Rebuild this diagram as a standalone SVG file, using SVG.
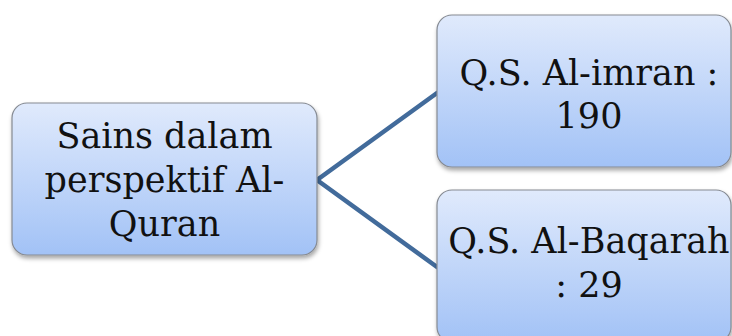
<svg xmlns="http://www.w3.org/2000/svg" width="732" height="336" viewBox="0 0 732 336">
<defs>
<linearGradient id="g" x1="0" y1="0" x2="0" y2="1">
<stop offset="0" stop-color="#e0eafc"/>
<stop offset="1" stop-color="#a2c2f6"/>
</linearGradient>
<filter id="sh" x="-10%" y="-10%" width="120%" height="130%">
<feDropShadow dx="1" dy="3" stdDeviation="2" flood-color="#000" flood-opacity="0.35"/>
</filter>
<style>
.box{fill:url(#g);stroke:#858a92;stroke-width:1.2;filter:url(#sh)}
.t{font-family:"DejaVu Serif",serif;font-size:35px;fill:#111;text-anchor:middle}
.c{stroke:#426b9b;stroke-width:4.5;fill:none;stroke-linecap:round;stroke-linejoin:miter}
</style>
</defs>
<rect width="732" height="336" fill="#fff"/>
<g id="connectors">
<polyline class="c" points="437,93 317,180 437,267"/>
</g>
<g id="node-sains">
<rect class="box" x="12" y="103" width="305" height="152" rx="15"/>
<text class="t" x="164.5" y="148">Sains dalam</text>
<text class="t" x="164.5" y="192">perspektif Al-</text>
<text class="t" x="164.5" y="236">Quran</text>
</g>
<g id="node-imran">
<rect class="box" x="437" y="15" width="294" height="152" rx="15"/>
<text class="t" x="589" y="85">Q.S. Al-imran :</text>
<text class="t" x="589" y="128">190</text>
</g>
<g id="node-baqarah">
<rect class="box" x="437" y="190" width="294" height="152" rx="15"/>
<text class="t" x="589" y="253">Q.S. Al-Baqarah</text>
<text class="t" x="589" y="297">: 29</text>
</g>
</svg>
